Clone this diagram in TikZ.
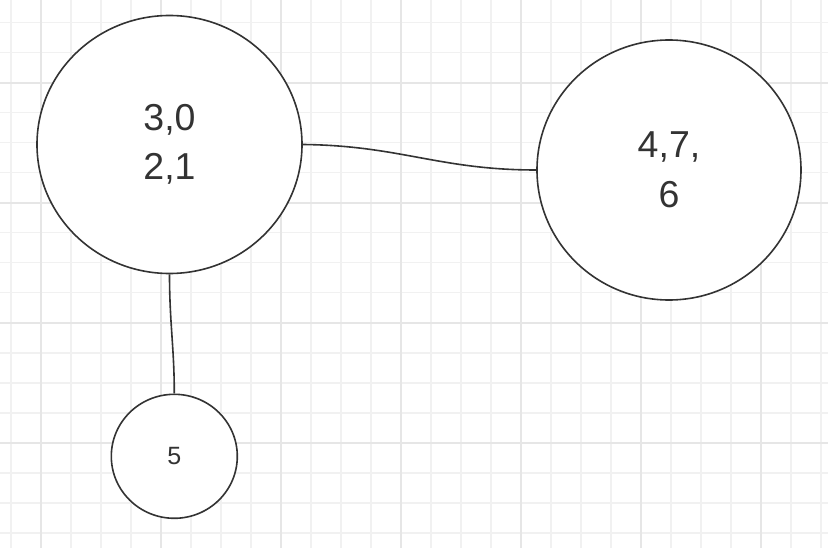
\documentclass[tikz,border=0pt]{standalone}
\usepackage{fontspec}
\setmainfont{Liberation Sans}
\usetikzlibrary{shapes.geometric,calc}
\definecolor{gridminor}{HTML}{F1F1F1}
\definecolor{gridmajor}{HTML}{E6E6E6}
\definecolor{ink}{HTML}{333333}
\begin{document}
\begin{tikzpicture}[x=1pt,y=-1pt,
  minorline/.style={gridminor,line width=1.6pt},
  majorline/.style={gridmajor,line width=1.8pt},
  vertex/.style={ellipse,draw=ink,line width=1.6pt,fill=white,inner sep=0pt,
    text=ink,align=center},
  bigtext/.style={font=\fontsize{37.5}{49.5}\selectfont},
  smalltext/.style={font=\fontsize{25}{30}\selectfont},
  link/.style={draw=ink,line width=1.6pt}]
\useasboundingbox (0,0) rectangle (828,548);
\fill[white] (0,0) rectangle (828,548);
% background grid
\foreach \x in {11,41,...,821} \draw[minorline] (\x,0) -- (\x,548);
\foreach \y in {22.7,52.7,...,542} \draw[minorline] (0,\y) -- (828,\y);
\foreach \x in {41,161,...,761} \draw[majorline] (\x,0) -- (\x,548);
\foreach \y in {82.7,202.7,322.7,442.7} \draw[majorline] (0,\y) -- (828,\y);
% vertices
\node[vertex,bigtext,minimum width=265pt,minimum height=258pt] (a) at (169.5,144.5) {3,0\\2,1};
\node[vertex,bigtext,minimum width=264pt,minimum height=260pt] (b) at (669,170) {4,7,\\6};
\node[vertex,smalltext,minimum width=126pt,minimum height=124pt] (c) at (174.3,456.3) {5};
% edges
\draw[link] (a.east) .. controls ($(a.east)+(97,1)$) and ($(b.west)+(-97,0)$) .. (b.west);
\draw[link] (a.south) .. controls ($(a.south)+(0,48)$) and ($(c.north)+(0,-45)$) .. (c.north);
\end{tikzpicture}
\end{document}
